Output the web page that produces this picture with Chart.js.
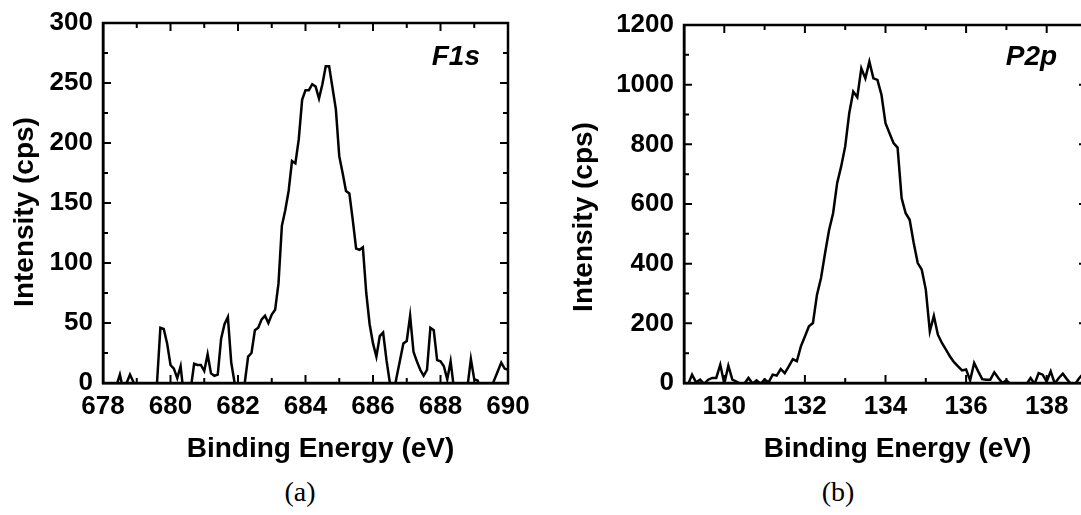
<!DOCTYPE html>
<html>
<head>
<meta charset="utf-8">
<title>XPS F1s / P2p</title>
<script src="https://cdn.jsdelivr.net/npm/chart.js"></script>
<style>
  html, body { margin: 0; padding: 0; background: #fff; overflow: hidden; width: 1081px; height: 515px; }
  .panel { position: absolute; top: 0; height: 470px; }
  #panelA { left: 0; width: 540px; }
  #panelB { left: 540px; width: 560px; }
  .caption { position: absolute; top: 476px; width: 60px; text-align: center;
             font-family: "Liberation Serif", "Times New Roman", serif; font-size: 28px; line-height: 32px; }
</style>
</head>
<body>
<div class="panel" id="panelA"><canvas id="chartA" width="540" height="470"></canvas></div>
<div class="panel" id="panelB"><canvas id="chartB" width="560" height="470"></canvas></div>
<div class="caption" style="left:270px">(a)</div>
<div class="caption" style="left:808px">(b)</div>
<script>
// F1s spectrum (a)
const f1sEnergy = [678.0, 678.1, 678.2, 678.3, 678.4, 678.5, 678.6, 678.7, 678.8, 678.9,
  679.0, 679.1, 679.2, 679.3, 679.4, 679.5, 679.6, 679.7, 679.8, 679.9,
  680.0, 680.1, 680.2, 680.3, 680.4, 680.5, 680.6, 680.7, 680.8, 680.9,
  681.0, 681.1, 681.2, 681.3, 681.4, 681.5, 681.6, 681.7, 681.8, 681.9,
  682.0, 682.1, 682.2, 682.3, 682.4, 682.5, 682.6, 682.7, 682.8, 682.9,
  683.0, 683.1, 683.2, 683.3, 683.4, 683.5, 683.6, 683.7, 683.8, 683.9,
  684.0, 684.1, 684.2, 684.3, 684.4, 684.5, 684.6, 684.7, 684.8, 684.9,
  685.0, 685.1, 685.2, 685.3, 685.4, 685.5, 685.6, 685.7, 685.8, 685.9,
  686.0, 686.1, 686.2, 686.3, 686.4, 686.5, 686.6, 686.7, 686.8, 686.9,
  687.0, 687.1, 687.2, 687.3, 687.4, 687.5, 687.6, 687.7, 687.8, 687.9,
  688.0, 688.1, 688.2, 688.3, 688.4, 688.5, 688.6, 688.7, 688.8, 688.9,
  689.0, 689.1, 689.2, 689.3, 689.4, 689.5, 689.6, 689.7, 689.8, 689.9, 690.0];
const f1sCounts = [0, -8, -5, -10, -2, 7, -6, 0, 7, 1,
  -10, -15, -8, -12, -6, -4, 0, 46, 45, 33,
  15, 12, 4, 14, -12, -15, -5, 16, 15, 15,
  10, 24, 8, 6, 7, 37, 49, 55, 17, 0,
  -10, -12, 0, 22, 25, 44, 46, 53, 56, 50,
  57, 61, 83, 131, 144, 160, 185, 183, 203, 236,
  244, 244, 249, 247, 237, 249, 264, 264, 246, 228,
  189, 175, 160, 158, 136, 112, 111, 113, 75, 49,
  33, 22, 39, 42, 19, 0, -10, 5, 19, 33,
  35, 56, 26, 18, 11, 6, 11, 46, 44, 19,
  18, 14, 3, 18, -5, -10, -8, -12, -3, 20,
  3, 2, -5, -10, -8, -4, 3, 10, 17, 12, 11];

// P2p spectrum (b)
const p2pEnergy = [129.0, 129.1, 129.2, 129.3, 129.4, 129.5, 129.6, 129.7, 129.8, 129.9,
  130.0, 130.1, 130.2, 130.3, 130.4, 130.5, 130.6, 130.7, 130.8, 130.9,
  131.0, 131.1, 131.2, 131.3, 131.4, 131.5, 131.6, 131.7, 131.8, 131.9,
  132.0, 132.1, 132.2, 132.3, 132.4, 132.5, 132.6, 132.7, 132.8, 132.9,
  133.0, 133.1, 133.2, 133.3, 133.4, 133.5, 133.6, 133.7, 133.8, 133.9,
  134.0, 134.1, 134.2, 134.3, 134.4, 134.5, 134.6, 134.7, 134.8, 134.9,
  135.0, 135.1, 135.2, 135.3, 135.4, 135.5, 135.6, 135.7, 135.8, 135.9,
  136.0, 136.1, 136.2, 136.3, 136.4, 136.5, 136.6, 136.7, 136.8, 136.9,
  137.0, 137.1, 137.2, 137.3, 137.4, 137.5, 137.6, 137.7, 137.8, 137.9,
  138.0, 138.1, 138.2, 138.3, 138.4, 138.5, 138.6, 138.7, 138.8, 138.9, 139.0];
const p2pCounts = [0, -5, 28, 2, 11, -3, 11, 17, 17, 61,
  -2, 58, 11, 5, -3, -2, 17, -2, 9, -2,
  11, 2, 28, 25, 47, 33, 56, 80, 73, 123,
  156, 190, 201, 296, 352, 435, 513, 569, 670, 726,
  793, 904, 977, 958, 1055, 1021, 1077, 1021, 1016, 966,
  871, 837, 804, 789, 620, 569, 547, 469, 402, 380,
  313, 173, 225, 162, 134, 112, 89, 70, 56, 42,
  45, 9, 67, 39, 13, 11, 11, 36, 17, 0,
  9, -3, -8, -5, -10, -4, 17, -3, 33, 28,
  5, 39, -2, 17, 31, 13, -3, -5, 15, 30, 40];

// ticks
const f1sXTicks = [678, 680, 682, 684, 686, 688, 690];
const f1sXMinor = [679, 681, 683, 685, 687, 689];
const f1sYTicks = [0, 50, 100, 150, 200, 250, 300];
const f1sYMinor = [25, 75, 125, 175, 225, 275];
const p2pXTicks = [130, 132, 134, 136, 138];
const p2pXMinor = [129, 131, 133, 135, 137, 139];
const p2pYTicks = [0, 200, 400, 600, 800, 1000, 1200];
const p2pYMinor = [100, 300, 500, 700, 900, 1100];

const xTitle = 'Binding Energy (eV)';
const yTitle = 'Intensity (cps)';
const FONT = '"Liberation Sans", Arial, Helvetica, sans-serif';

// frame, inward ticks, axis titles and peak label
const frameTicks = {
  id: 'frameTicks',
  afterDraw(chart, args, opts) {
    const {ctx, chartArea: a} = chart;
    const x = chart.scales.x, y = chart.scales.y;
    ctx.save();
    ctx.strokeStyle = '#000';
    ctx.lineWidth = 2.5;
    ctx.strokeRect(a.left, a.top, a.right - a.left, a.bottom - a.top);
    ctx.beginPath();
    ctx.lineWidth = 2;
    const xMarks = (vals, len) => vals.forEach(v => {
      const px = x.getPixelForValue(v);
      ctx.moveTo(px, a.bottom); ctx.lineTo(px, a.bottom - len);
      ctx.moveTo(px, a.top); ctx.lineTo(px, a.top + len);
    });
    const yMarks = (vals, len) => vals.forEach(v => {
      const py = y.getPixelForValue(v);
      ctx.moveTo(a.left, py); ctx.lineTo(a.left + len, py);
      ctx.moveTo(a.right, py); ctx.lineTo(a.right - len, py);
    });
    xMarks(opts.xMajor, 8); xMarks(opts.xMinor, 5);
    yMarks(opts.yMajor, 8); yMarks(opts.yMinor, 5);
    ctx.stroke();

    ctx.fillStyle = '#000';
    // axis titles (slightly off-centre, as in the original figure)
    ctx.font = 'bold 28px ' + FONT;
    ctx.textAlign = 'center';
    ctx.textBaseline = 'middle';
    ctx.fillText(xTitle, (a.left + a.right) / 2 + opts.titleShift[0], a.bottom + 66);
    ctx.save();
    ctx.translate(opts.yTitleX, (a.top + a.bottom) / 2 + opts.titleShift[1]);
    ctx.rotate(-Math.PI / 2);
    ctx.fillText(yTitle, 0, 0);
    ctx.restore();

    ctx.font = 'italic bold 28px ' + FONT;
    ctx.textAlign = 'right';
    ctx.textBaseline = 'alphabetic';
    ctx.fillText(opts.label, x.getPixelForValue(opts.labelAt[0]), y.getPixelForValue(opts.labelAt[1]));
    ctx.restore();
  }
};

function makeChart(id, energy, counts, xTicks, xMinor, yTicks, yMinor, xMin, xMax, yMax, label, labelAt, pad, yWidth, titleShift, yTitleX) {
  const points = energy.map((e, i) => ({x: e, y: counts[i]}));
  return new Chart(document.getElementById(id), {
    type: 'line',
    data: {
      datasets: [{
        data: points,
        borderColor: '#000',
        borderWidth: 2.5,
        pointRadius: 0,
        tension: 0,
        fill: false
      }]
    },
    options: {
      responsive: false,
      animation: false,
      devicePixelRatio: 1,
      layout: { padding: pad },
      plugins: {
        legend: { display: false },
        tooltip: { enabled: false },
        frameTicks: { xMajor: xTicks, xMinor: xMinor, yMajor: yTicks, yMinor: yMinor,
                      label: label, labelAt: labelAt, titleShift: titleShift, yTitleX: yTitleX }
      },
      scales: {
        x: {
          type: 'linear',
          min: xMin, max: xMax,
          grid: { display: false, drawTicks: false },
          border: { display: true, color: '#000', width: 2.5 },
          afterBuildTicks: s => { s.ticks = xTicks.map(v => ({value: v})); },
          afterFit: s => { s.height = 87; s.paddingLeft = 0; s.paddingRight = 0; },
          ticks: {
            color: '#000', padding: 8, maxRotation: 0, autoSkip: false,
            font: { family: FONT, size: 26, weight: 'bold' },
            callback: v => String(v)
          }
        },
        y: {
          type: 'linear',
          min: 0, max: yMax,
          grid: { display: false, drawTicks: false },
          border: { display: true, color: '#000', width: 2.5 },
          afterBuildTicks: s => { s.ticks = yTicks.map(v => ({value: v})); },
          afterFit: s => { s.width = yWidth; s.paddingTop = 0; s.paddingBottom = 0; },
          ticks: {
            color: '#000', padding: 10, autoSkip: false,
            font: { family: FONT, size: 26, weight: 'bold' },
            callback: v => String(v)
          }
        }
      }
    },
    plugins: [frameTicks]
  });
}

makeChart('chartA', f1sEnergy, f1sCounts, f1sXTicks, f1sXMinor, f1sYTicks, f1sYMinor,
  678, 690, 300, 'F1s', [689.17, 265], {left: 4, top: 23, right: 32, bottom: 0}, 99, [15, 9], 25);
makeChart('chartB', p2pEnergy, p2pCounts, p2pXTicks, p2pXMinor, p2pYTicks, p2pYMinor,
  129, 139, 1200, 'P2p', [138.26, 1066], {left: 23, top: 25, right: 13, bottom: 0}, 121, [12, 13], 44);
</script>
</body>
</html>
